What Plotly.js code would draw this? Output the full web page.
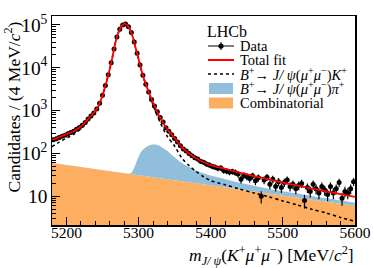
<!DOCTYPE html>
<html><head><meta charset="utf-8">
<script src="https://cdn.plot.ly/plotly-3.0.1.min.js"></script>
<style>html,body{margin:0;padding:0;background:#fff;}#chart{width:374px;height:268px;}</style>
</head><body><div id="chart"></div>
<script>
// ---- data: 4 MeV bins ----
const binCenters = [5182,5186,5190,5194,5198,5202,5206,5210,5214,5218,5222,5226,5230,5234,5238,5242,5246,5250,5254,5258,
5262,5266,5270,5274,5278,5282,5286,5290,5294,5298,5302,5306,5310,5314,5318,5322,5326,5330,5334,5338,
5342,5346,5350,5354,5358,5362,5366,5370,5374,5378,5382,5386,5390,5394,5398,5402,5406,5410,5414,5418,
5422,5426,5430,5434,5438,5442,5446,5450,5454,5458,5462,5466,5470,5474,5478,5482,5486,5490,5494,5498,
5502,5506,5510,5514,5518,5522,5526,5530,5534,5538,5542,5546,5550,5554,5558,5562,5566,5570,5574,5578,
5582,5586,5590,5594,5598];
const dataCounts = [210,222,236,252,266,288,308,332,368,405,455,530,635,745,880,1100,1480,2300,3850,6900,
13200,27400,52500,79500,99500,106000,90500,66500,40000,21800,11700,6750,4120,2720,1830,1290,940,690,540,400,
330,272,224,186,152,128,114,100,88,80,74,66,62,57,54,50,48,45,46,40,
39,37,38,36,33,25,31,29,26,30,23,27,10,24,28,19,25,17,22,16,
21,24,17,19,15,18,20,8,16,13,19,15,12,17,14,11,17,12,15,21,
9,13,12,15,22];

// ---- fit components ----
const curveMass = [5180,5190,5200,5210,5220,5230,5240,5245,5250,5255,5260,5263,5266,5269,5272,5275,5278,5281,5284,5287,
5290,5293,5296,5299,5302,5305,5310,5315,5320,5325,5330,5340,5350,5360,5370,5380,5390,5400,5420,5440,
5460,5480,5500,5520,5540,5560,5580,5600];
const sigK = [144,184,229,280,379,586,934,1307,2250,4326,9295,15450,27500,45670,66030,85070,99970,107170,99970,85080,
66030,45670,28780,18540,11650,7470,4030,2300,1386,840,528,248,148,78,52,37.7,28.7,23.3,18.6,14.8,
12.0,9.8,7.8,6.3,5.0,4.1,3.2,2.6];
const bkgPi = [0,0,0,0,0,0,0,0,0,0,0,0,0,0,0,0,0,0,0,0.5,
3,10,25,45,68,88,110,127,135,133,122,90,58,38,27,20,15.5,12.5,9,6.5,
4.8,3.6,2.8,2.3,1.9,1.6,1.3,1.1];
const bkgComb = [59.6,56.4,53.4,50.6,47.9,45.3,42.9,41.7,40.6,39.5,38.4,37.8,37.2,36.6,36.0,35.4,34.8,34.3,33.7,33.2,
32.6,32.1,31.6,31.0,30.5,30.0,29.2,28.4,27.7,26.9,26.2,24.8,23.5,22.2,21.1,19.9,18.9,17.9,16.0,14.3,
12.9,11.5,10.3,9.3,8.3,7.4,6.7,6.0];

const legendLabels = ['Data','Total fit',
  '<i>B</i><sup>+</sup>→ <i>J/ ψ</i>(<i>μ</i><sup>+</sup><i>μ</i><sup>−</sup>)<i>K</i><sup>+</sup>',
  '<i>B</i><sup>+</sup>→ <i>J/ ψ</i>(<i>μ</i><sup>+</sup><i>μ</i><sup>−</sup>)<i>π</i><sup>+</sup>',
  'Combinatorial'];

const combPlusPi = bkgComb.map((c,i)=>c+bkgPi[i]);
const totalFit = bkgComb.map((c,i)=>c+bkgPi[i]+sigK[i]);
const dataErr = dataCounts.map(n=>Math.sqrt(n));

const ORANGE='#fdae61', BLUE='#91bfdb', RED='#ff0000';
const FONT='Liberation Serif, Times New Roman, serif';

const traces = [
  {x:curveMass, y:bkgComb, mode:'lines', fill:'tozeroy', fillcolor:ORANGE, line:{width:0, color:ORANGE, shape:'linear'}, hoverinfo:'skip'},
  {x:curveMass, y:combPlusPi, mode:'lines', fill:'tonexty', fillcolor:BLUE, line:{width:0, color:BLUE, shape:'spline', smoothing:0.8}, hoverinfo:'skip'},
  {x:curveMass, y:sigK, mode:'lines', line:{width:1.6, color:'#000', dash:'dot', shape:'spline', smoothing:0.8}},
  {x:binCenters, y:dataCounts, mode:'markers', marker:{size:5, color:'#000'},
   error_y:{type:'data', array:dataErr, visible:true, color:'#000', thickness:1.2, width:0},
   error_x:{type:'constant', value:2, visible:true, color:'#000', thickness:1, width:0}},
  {x:curveMass, y:totalFit, mode:'lines', line:{width:1.8, color:RED, shape:'spline', smoothing:0.8}}
];

// legend geometry (paper coords)
const px = v => (v-52)/303, py = v => (225-v)/209;
const rowY = [46,60,74,88.5,103];
const symX0 = px(208), symX1 = px(234), txtX = px(238);
const shapes = [
  {type:'line', xref:'paper', yref:'paper', x0:symX0, x1:symX1, y0:py(rowY[0]), y1:py(rowY[0]), line:{color:'#000', width:1}},
  {type:'line', xref:'paper', yref:'paper', x0:px(221), x1:px(221), y0:py(rowY[0]-4), y1:py(rowY[0]+4), line:{color:'#000', width:1}},
  {type:'circle', xref:'paper', yref:'paper', xsizemode:'pixel', ysizemode:'pixel', xanchor:px(221), yanchor:py(rowY[0]),
   x0:-2.6, x1:2.6, y0:-2.6, y1:2.6, fillcolor:'#000', line:{width:0}},
  {type:'line', xref:'paper', yref:'paper', x0:symX0, x1:symX1, y0:py(rowY[1]), y1:py(rowY[1]), line:{color:RED, width:2}},
  {type:'line', xref:'paper', yref:'paper', x0:symX0, x1:symX1, y0:py(rowY[2]), y1:py(rowY[2]), line:{color:'#000', width:1.6, dash:'dot'}},
  {type:'rect', xref:'paper', yref:'paper', x0:px(209), x1:px(233), y0:py(rowY[3]-5.5), y1:py(rowY[3]+5.5), fillcolor:BLUE, line:{width:0}},
  {type:'rect', xref:'paper', yref:'paper', x0:px(209), x1:px(233), y0:py(rowY[4]-5.5), y1:py(rowY[4]+5.5), fillcolor:ORANGE, line:{width:0}}
];
const annotations = [
  {text:'LHCb', xref:'paper', yref:'paper', x:px(205), y:py(31), xanchor:'left', yanchor:'middle', showarrow:false, font:{family:FONT, size:16}}
].concat(legendLabels.map((t,i)=>({text:t, xref:'paper', yref:'paper', x:txtX, y:py(rowY[i]), xanchor:'left', yanchor:'middle', showarrow:false, font:{family:FONT, size:14.5}})));
annotations.push({text:'Candidates / (4 MeV/<i>c</i><sup>2</sup>)', xref:'paper', yref:'paper', x:px(12), y:py(20), xanchor:'center', yanchor:'top', textangle:-90, showarrow:false, font:{family:FONT, size:17.5}});
annotations.push({text:'<i>m</i><sub><i>J/ ψ</i></sub>(<i>K</i><sup>+</sup><i>μ</i><sup>+</sup><i>μ</i><sup>−</sup>) [MeV/<i>c</i><sup>2</sup>]', xref:'paper', yref:'paper', x:1.003, y:py(255), xanchor:'right', yanchor:'middle', showarrow:false, font:{family:FONT, size:17.5}});

const layout = {
  width:374, height:268,
  margin:{l:52, r:19, t:16, b:43},
  paper_bgcolor:'#fff', plot_bgcolor:'#fff',
  showlegend:false,
  font:{family:FONT, color:'#000', size:15},
  xaxis:{range:[5180,5600], tick0:5200, dtick:100, ticks:'inside', ticklen:8, tickwidth:1, tickcolor:'#000',
    minor:{dtick:20, ticks:'inside', ticklen:4, tickwidth:1, tickcolor:'#000', showgrid:false},
    showgrid:false, zeroline:false, showline:true, linecolor:'#000', linewidth:1.5, mirror:true,
    ticklabelstandoff:-7,
    tickfont:{family:FONT, size:15.5}},
  yaxis:{type:'log', range:[0.33,5.21], dtick:1, exponentformat:'power', ticks:'inside', ticklen:8, tickwidth:1, tickcolor:'#000',
    minor:{dtick:'D1', ticks:'inside', ticklen:4, tickwidth:1, tickcolor:'#000', showgrid:false},
    showgrid:false, zeroline:false, showline:true, linecolor:'#000', linewidth:1.5, mirror:true,
    tickfont:{family:FONT, size:15.5}},
  shapes:shapes, annotations:annotations
};
Plotly.newPlot('chart', traces, layout, {staticPlot:true, displayModeBar:false});
</script></body></html>
